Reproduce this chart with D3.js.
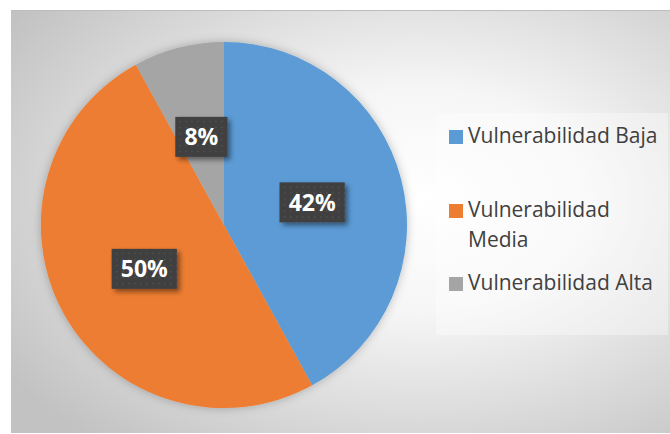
<!DOCTYPE html>
<html>
<head>
<meta charset="utf-8">
<script src="https://cdn.jsdelivr.net/npm/d3@7"></script>
<style>
  body { margin: 0; background: #fff; }
  svg { display: block; }
</style>
</head>
<body>
<svg id="chart"></svg>
<script>
// categories, values and series colours
const categories = ["Vulnerabilidad Baja", "Vulnerabilidad Media", "Vulnerabilidad Alta"];
const values = [42, 50, 8];
const colors = ["#5B9BD5", "#ED7D31", "#A5A5A5"];

const width = 670, height = 434;
const radius = 183;
const cx = 224, cy = 225;

const svg = d3.select("#chart")
  .attr("width", width)
  .attr("height", height)
  .attr("font-family", "'Open Sans', sans-serif");

const defs = svg.append("defs");

// background gradient
const bg = defs.append("radialGradient")
  .attr("id", "bg")
  .attr("cx", "0.62").attr("cy", "0.45").attr("r", "0.75");
bg.append("stop").attr("offset", "0").attr("stop-color", "#ffffff");
bg.append("stop").attr("offset", "0.35").attr("stop-color", "#f6f6f6");
bg.append("stop").attr("offset", "1").attr("stop-color", "#c2c2c2");

// dotted fill for labels
const pat = defs.append("pattern")
  .attr("id", "dots")
  .attr("width", 6).attr("height", 6)
  .attr("patternUnits", "userSpaceOnUse");
pat.append("rect").attr("width", 6).attr("height", 6).attr("fill", "#404040");
pat.append("rect").attr("x", 2).attr("y", 2).attr("width", 1.2).attr("height", 1.2).attr("fill", "#5a5a5a");

const shadow = defs.append("filter").attr("id", "shadow")
  .attr("x", "-30%").attr("y", "-30%").attr("width", "160%").attr("height", "160%");
shadow.append("feDropShadow")
  .attr("dx", 3).attr("dy", 3).attr("stdDeviation", 2.5)
  .attr("flood-color", "#000").attr("flood-opacity", 0.45);

const pieShadow = defs.append("filter").attr("id", "pieShadow")
  .attr("x", "-20%").attr("y", "-20%").attr("width", "140%").attr("height", "140%");
pieShadow.append("feDropShadow")
  .attr("dx", 0).attr("dy", 0).attr("stdDeviation", 5)
  .attr("flood-color", "#000").attr("flood-opacity", 0.25);

// chart area
svg.append("rect")
  .attr("x", 11).attr("y", 10)
  .attr("width", width - 11).attr("height", height - 11)
  .attr("fill", "url(#bg)");
svg.append("line")
  .attr("x1", 11).attr("x2", width).attr("y1", 10.5).attr("y2", 10.5)
  .attr("stroke", "#bdbdbd");

const pie = d3.pie().sort(null).value(d => d);
const arcs = pie(values);
const arc = d3.arc().innerRadius(0).outerRadius(radius);
const labelArc = d3.arc().innerRadius(91).outerRadius(91);

const g = svg.append("g").attr("transform", `translate(${cx},${cy})`);

g.append("g")
  .attr("filter", "url(#pieShadow)")
  .selectAll("path")
  .data(arcs)
  .join("path")
  .attr("d", arc)
  .attr("fill", (d, i) => colors[i]);

// data labels
const total = d3.sum(values);
const labels = g.selectAll("g.label")
  .data(arcs)
  .join("g")
  .attr("class", "label")
  .attr("transform", d => `translate(${labelArc.centroid(d)})`);

const box = labels.append("rect").attr("fill", "url(#dots)").attr("filter", "url(#shadow)");
const txt = labels.append("text")
  .attr("text-anchor", "middle")
  .attr("dy", "0.36em")
  .attr("fill", "#fff")
  .attr("font-weight", "bold")
  .attr("font-size", 23)
  .text(d => Math.round(d.data / total * 100) + "%");

txt.each(function () {
  const b = this.getBBox();
  d3.select(this.previousSibling)
    .attr("x", -b.width / 2 - 9)
    .attr("y", -20)
    .attr("width", b.width + 18)
    .attr("height", 40);
});

// legend
svg.append("rect")
  .attr("x", 436).attr("y", 113)
  .attr("width", 232).attr("height", 222)
  .attr("fill", "#ffffff").attr("fill-opacity", 0.35);

const legendRows = [143, 217, 290];
const legend = svg.append("g")
  .selectAll("g")
  .data(categories)
  .join("g")
  .attr("transform", (d, i) => `translate(449,${legendRows[i]})`);

legend.append("rect")
  .attr("y", -13).attr("width", 14).attr("height", 14)
  .attr("fill", (d, i) => colors[i]);

legend.append("text")
  .attr("x", 19)
  .attr("fill", "#404040")
  .attr("font-size", 21)
  .each(function (d) {
    const t = d3.select(this);
    const words = d.split(" ");
    let line = [], tspan = t.append("tspan").attr("x", 19).attr("y", 0);
    let ln = 0;
    for (const w of words) {
      line.push(w);
      tspan.text(line.join(" "));
      if (tspan.node().getComputedTextLength() > 205 && line.length > 1) {
        line.pop();
        tspan.text(line.join(" "));
        line = [w];
        ln++;
        tspan = t.append("tspan").attr("x", 19).attr("y", ln * 30).text(w);
      }
    }
  });
</script>
</body>
</html>
